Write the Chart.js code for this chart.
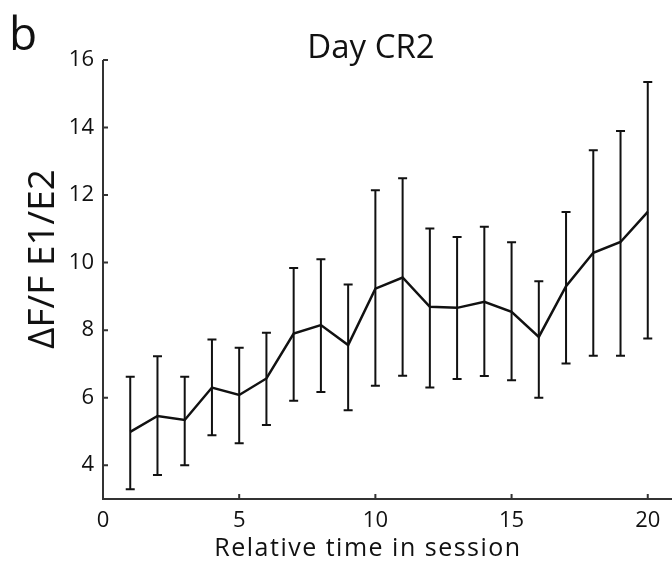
<!DOCTYPE html>
<html>
<head>
<meta charset="utf-8">
<script src="https://cdn.jsdelivr.net/npm/chart.js@4.4.0/dist/chart.umd.min.js"></script>
<style>
  html, body { margin: 0; padding: 0; background: #fff; overflow: hidden; }
  #wrap { width: 672px; height: 566px; overflow: hidden; }
  #box { width: 690px; height: 566px; }
</style>
</head>
<body>
<div id="wrap"><div id="box"><canvas id="crChart"></canvas></div></div>
<script>
const timeBins = [1, 2, 3, 4, 5, 6, 7, 8, 9, 10, 11, 12, 13, 14, 15, 16, 17, 18, 19, 20];
const meanDff = [4.99, 5.46, 5.34, 6.30, 6.08, 6.57, 7.90, 8.15, 7.56, 9.23, 9.56, 8.69, 8.66, 8.84, 8.54, 7.80, 9.30, 10.29, 10.61, 11.50];
const upperDff = [6.62, 7.23, 6.62, 7.72, 7.48, 7.92, 9.84, 10.10, 9.35, 12.14, 12.50, 11.01, 10.76, 11.06, 10.60, 9.45, 11.50, 13.33, 13.90, 15.35];
const lowerDff = [3.29, 3.71, 4.00, 4.89, 4.65, 5.19, 5.91, 6.17, 5.63, 6.35, 6.65, 6.30, 6.55, 6.64, 6.52, 6.00, 7.01, 7.24, 7.24, 7.75];
const xTicks = [0, 5, 10, 15, 20];
const yTicks = [4, 6, 8, 10, 12, 14, 16];

const FONT = '"Open Sans", "DejaVu Sans", sans-serif';
const INK = '#111';

// vertical error bars with caps, drawn under the mean line
const errorBars = {
  id: 'errorBars',
  beforeDatasetsDraw(chart) {
    const { ctx, scales: { x, y } } = chart;
    ctx.save();
    ctx.strokeStyle = INK;
    ctx.lineWidth = 2;
    timeBins.forEach((t, i) => {
      const px = x.getPixelForValue(t);
      const top = y.getPixelForValue(upperDff[i]);
      const bot = y.getPixelForValue(lowerDff[i]);
      ctx.beginPath();
      ctx.moveTo(px, top); ctx.lineTo(px, bot);
      ctx.moveTo(px - 4.5, top); ctx.lineTo(px + 4.5, top);
      ctx.moveTo(px - 4.5, bot); ctx.lineTo(px + 4.5, bot);
      ctx.stroke();
    });
    ctx.restore();
  }
};

// matlab-like axes: two lines with inward ticks, plus panel letter, title and axis labels
const axesFrame = {
  id: 'axesFrame',
  afterDraw(chart) {
    const { ctx, chartArea: a, scales: { x, y } } = chart;
    ctx.save();
    ctx.strokeStyle = '#333';
    ctx.lineWidth = 2;
    ctx.beginPath();
    ctx.moveTo(a.left, a.top); ctx.lineTo(a.left, a.bottom); ctx.lineTo(a.right + 20, a.bottom);
    y.ticks.forEach(t => {
      const py = y.getPixelForValue(t.value);
      ctx.moveTo(a.left, py); ctx.lineTo(a.left + 5, py);
    });
    x.ticks.forEach(t => {
      const px = x.getPixelForValue(t.value);
      ctx.moveTo(px, a.bottom); ctx.lineTo(px, a.bottom - 5);
    });
    ctx.stroke();

    ctx.fillStyle = INK;
    ctx.textBaseline = 'alphabetic';
    ctx.textAlign = 'left';
    ctx.font = '46px ' + FONT;
    ctx.fillText('b', 9, 50);

    ctx.textAlign = 'center';
    ctx.font = '33px ' + FONT;
    ctx.fillText('Day CR2', 371, 58);

    ctx.font = '25px ' + FONT;
    ctx.letterSpacing = '1.5px';
    ctx.fillText('Relative time in session', 368, 556);
    ctx.letterSpacing = '0px';

    ctx.translate(54, 259);
    ctx.rotate(-Math.PI / 2);
    ctx.font = '37px ' + FONT;
    ctx.fillText('ΔF/F E1/E2', 0, 0);
    ctx.restore();
  }
};

new Chart(document.getElementById('crChart').getContext('2d'), {
  type: 'line',
  data: {
    datasets: [{
      data: timeBins.map((t, i) => ({ x: t, y: meanDff[i] })),
      borderColor: INK,
      borderWidth: 2.5,
      pointRadius: 0,
      tension: 0,
      fill: false
    }]
  },
  options: {
    responsive: true,
    maintainAspectRatio: false,
    animation: false,
    layout: { padding: { left: 0, top: 60, right: 15, bottom: 0 } },
    plugins: { legend: { display: false }, tooltip: { enabled: false } },
    scales: {
      x: {
        type: 'linear',
        min: 0,
        max: 21,
        afterBuildTicks: s => { s.ticks = xTicks.map(v => ({ value: v })); },
        afterFit: s => { s.height = 67; },
        grid: { display: false, drawTicks: false },
        border: { display: false },
        ticks: { color: INK, padding: 9, font: { family: FONT, size: 22 } }
      },
      y: {
        min: 3,
        max: 16,
        afterBuildTicks: s => { s.ticks = yTicks.map(v => ({ value: v })); },
        afterFit: s => { s.width = 103; },
        grid: { display: false, drawTicks: false },
        border: { display: false },
        ticks: { color: INK, padding: 9, font: { family: FONT, size: 22 } }
      }
    }
  },
  plugins: [errorBars, axesFrame]
});
</script>
</body>
</html>
